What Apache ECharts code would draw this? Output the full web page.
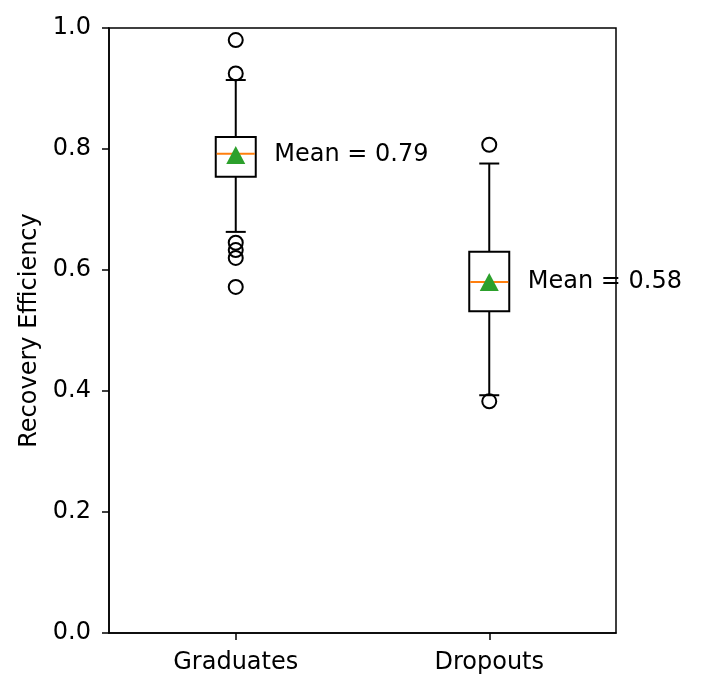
<!DOCTYPE html>
<html>
<head>
<meta charset="utf-8">
<script src="https://cdn.jsdelivr.net/npm/echarts@6/dist/echarts.min.js"></script>
<style>html,body{margin:0;padding:0;background:#fff}#c{width:704px;height:694px}</style>
</head>
<body>
<div id="c"></div>
<script>
const categories = ['Graduates', 'Dropouts'];
// [lower whisker, Q1, median, Q3, upper whisker]
const boxStats = [
  [0.663, 0.754, 0.792, 0.820, 0.914],
  [0.393, 0.532, 0.580, 0.630, 0.776]
];
const means = [0.79, 0.58];
const outliersGraduates = [0.980, 0.925, 0.645, 0.633, 0.620, 0.572];
const outliersDropouts = [0.807, 0.383];
const yTicks = [0, 0.2, 0.4, 0.6, 0.8, 1.0];

const FONT = 'DejaVu Sans';
const FS = 24;
const boxData = boxStats.map((s, i) => [i].concat(s));
const outlierData = [];
outliersGraduates.forEach(v => outlierData.push([0, v]));
outliersDropouts.forEach(v => outlierData.push([1, v]));
const meanData = means.map((m, i) => [i, m]);

const chart = echarts.init(document.getElementById('c'));
chart.setOption({
  animation: false,
  backgroundColor: '#fff',
  grid: { left: 109, right: 88, top: 28, bottom: 61, show: true, borderColor: '#000', borderWidth: 1.5, backgroundColor: 'transparent' },
  xAxis: {
    type: 'category', data: categories, boundaryGap: true,
    axisLine: { show: true, lineStyle: { color: '#000', width: 1.5 } },
    axisTick: { show: true, alignWithLabel: true, length: 7, lineStyle: { color: '#000', width: 1.5 } },
    axisLabel: { color: '#000', fontFamily: FONT, fontSize: FS, margin: 18 },
    splitLine: { show: false }
  },
  yAxis: {
    type: 'value', min: 0, max: 1, interval: 0.2,
    name: 'Recovery Efficiency', nameLocation: 'middle', nameGap: 66,
    nameTextStyle: { color: '#000', fontFamily: FONT, fontSize: FS },
    axisLine: { show: true, lineStyle: { color: '#000', width: 1.5 } },
    axisTick: { show: true, length: 7, lineStyle: { color: '#000', width: 1.5 } },
    axisLabel: { color: '#000', fontFamily: FONT, fontSize: FS, margin: 18,
      formatter: v => yTicks.some(t => Math.abs(t - v) < 1e-9) ? v.toFixed(1) : '' },
    splitLine: { show: false }
  },
  series: [
    {
      type: 'custom', z: 2,
      data: boxData,
      encode: { x: 0, y: [1, 2, 3, 4, 5] },
      renderItem: function (params, api) {
        const i = api.value(0);
        const lo = api.coord([i, api.value(1)]);
        const q1 = api.coord([i, api.value(2)]);
        const md = api.coord([i, api.value(3)]);
        const q3 = api.coord([i, api.value(4)]);
        const hi = api.coord([i, api.value(5)]);
        const cx = q1[0], hw = 20, cw = 10;
        const ls = { stroke: '#000', lineWidth: 2, fill: null };
        return {
          type: 'group',
          children: [
            { type: 'line', shape: { x1: cx, y1: q3[1], x2: cx, y2: hi[1] }, style: ls },
            { type: 'line', shape: { x1: cx, y1: q1[1], x2: cx, y2: lo[1] }, style: ls },
            { type: 'line', shape: { x1: cx - cw, y1: hi[1], x2: cx + cw, y2: hi[1] }, style: ls },
            { type: 'line', shape: { x1: cx - cw, y1: lo[1], x2: cx + cw, y2: lo[1] }, style: ls },
            { type: 'rect', shape: { x: cx - hw, y: q3[1], width: 2 * hw, height: q1[1] - q3[1] }, style: { stroke: '#000', lineWidth: 2, fill: '#fff' } },
            { type: 'line', shape: { x1: cx - hw + 1, y1: md[1], x2: cx + hw - 1, y2: md[1] }, style: { stroke: '#ff7f0e', lineWidth: 2 } }
          ]
        };
      }
    },
    {
      type: 'scatter', z: 3,
      data: outlierData,
      symbol: 'circle', symbolSize: 14,
      itemStyle: { color: 'rgba(255,255,255,0)', borderColor: '#000', borderWidth: 2, opacity: 1 }
    },
    {
      type: 'scatter', z: 4,
      data: meanData,
      symbol: 'triangle', symbolSize: [19, 18],
      itemStyle: { color: '#2ca02c', opacity: 1 },
      label: {
        show: true, position: 'right', distance: 29,
        color: '#000', fontFamily: FONT, fontSize: FS, textBorderWidth: 0, opacity: 1,
        formatter: p => 'Mean = ' + p.value[1].toFixed(2)
      }
    }
  ]
});
</script>
</body>
</html>
